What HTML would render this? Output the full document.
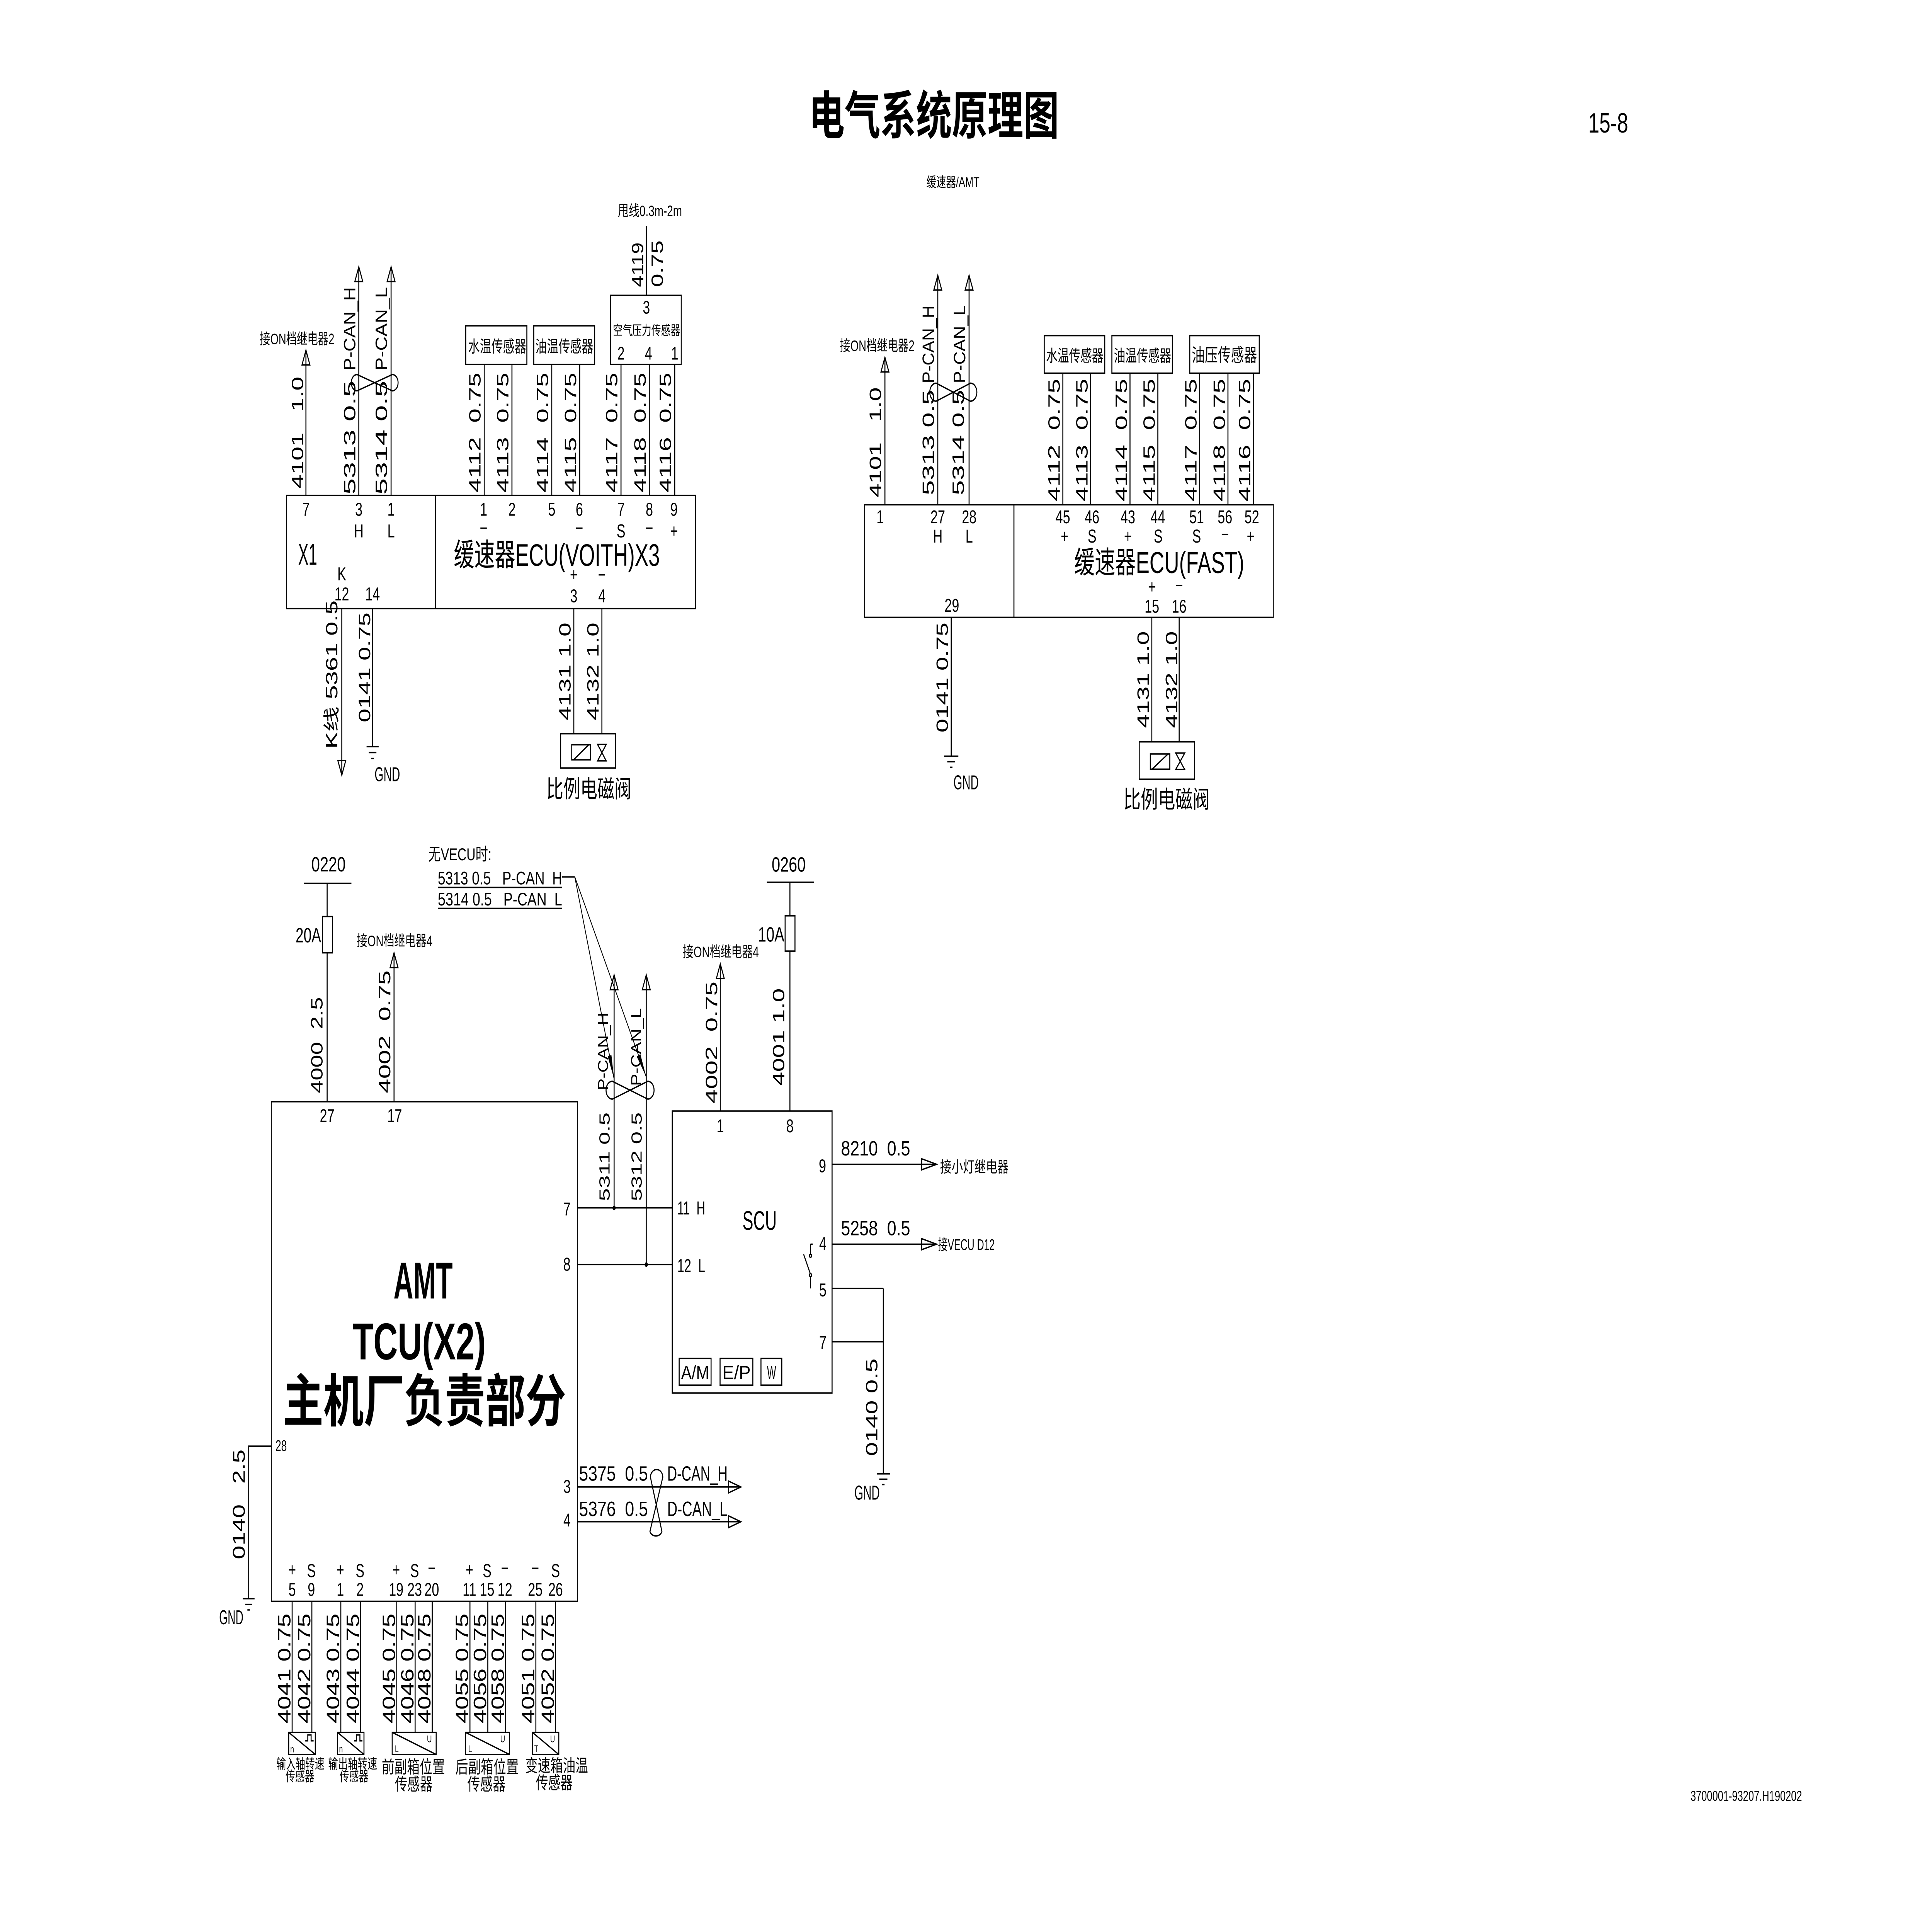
<!DOCTYPE html>
<html><head><meta charset="utf-8"><style>
html,body{margin:0;padding:0;background:#fff;width:100%;height:100%;overflow:hidden;}
svg{display:block;position:absolute;left:0;top:0;width:100vw;height:100vh}
text{font-family:"Liberation Sans","Noto Sans CJK SC",sans-serif;fill:#000}
.c{text-anchor:middle}
.b{font-weight:bold}
</style></head><body>
<svg xmlns="http://www.w3.org/2000/svg" viewBox="0 0 1568 1108" preserveAspectRatio="none">
<rect width="1568" height="1108" fill="#fff"/>
<g stroke="#000" stroke-width="0.8" fill="none">
<!-- ===== TOP LEFT ===== -->
<rect x="232.6" y="286.5" width="331.9" height="65.4"/>
<line x1="353.3" y1="286.5" x2="353.3" y2="351.9"/>
<line x1="248.3" y1="202.5" x2="248.3" y2="286.5"/>
<polygon points="248.3,202.5 245.1,211 251.5,211"/>
<line x1="291.2" y1="154.3" x2="291.2" y2="286.5"/>
<polygon points="291.2,154.3 288,162.8 294.4,162.8"/>
<line x1="317.4" y1="154.3" x2="317.4" y2="286.5"/>
<polygon points="317.4,154.3 314.2,162.8 320.6,162.8"/>
<path d="M289.8,216.6 L318.4,226 A4.7,4.7 0 0 0 318.4,216.6 L289.8,226 A4.7,4.7 0 0 1 289.8,216.6 Z"/>
<rect x="378" y="188.4" width="49.6" height="22.4"/>
<rect x="433.2" y="188.4" width="49.4" height="22.4"/>
<rect x="495.5" y="170.8" width="57.4" height="40"/>
<line x1="393" y1="210.8" x2="393" y2="286.5"/>
<line x1="415.5" y1="210.8" x2="415.5" y2="286.5"/>
<line x1="447.8" y1="210.8" x2="447.8" y2="286.5"/>
<line x1="470.5" y1="210.8" x2="470.5" y2="286.5"/>
<line x1="504" y1="210.8" x2="504" y2="286.5"/>
<line x1="527" y1="210.8" x2="527" y2="286.5"/>
<line x1="547.6" y1="210.8" x2="547.6" y2="286.5"/>
<line x1="524.6" y1="130.8" x2="524.6" y2="170.8"/>
<line x1="277.4" y1="351.9" x2="277.4" y2="448.3"/>
<polygon points="277.4,448.3 274.2,439.8 280.6,439.8"/>
<line x1="302.4" y1="351.9" x2="302.4" y2="431.8"/>
<line x1="297.5" y1="431.8" x2="307.3" y2="431.8"/>
<line x1="299.3" y1="435.2" x2="305.5" y2="435.2"/>
<line x1="301.3" y1="438.6" x2="303.5" y2="438.6"/>
<line x1="465.7" y1="351.9" x2="465.7" y2="424.3"/>
<line x1="488.5" y1="351.9" x2="488.5" y2="424.3"/>
<rect x="455" y="424.3" width="44.6" height="19.8"/>
<rect x="464" y="430.7" width="15.3" height="8.7"/>
<line x1="465.5" y1="439.4" x2="477.8" y2="430.7"/>
<path d="M485,430.5 H492 L485,440 H492 Z"/>
<!-- ===== TOP RIGHT ===== -->
<rect x="701.7" y="291.9" width="331.7" height="65.1"/>
<line x1="822.9" y1="291.9" x2="822.9" y2="357"/>
<line x1="718.2" y1="206.6" x2="718.2" y2="291.9"/>
<polygon points="718.2,206.6 715,215.1 721.4,215.1"/>
<line x1="761.1" y1="159.2" x2="761.1" y2="291.9"/>
<polygon points="761.1,159.2 757.9,167.7 764.3,167.7"/>
<line x1="786.5" y1="159.2" x2="786.5" y2="291.9"/>
<polygon points="786.5,159.2 783.3,167.7 789.7,167.7"/>
<path d="M759.8,221.6 L787.6,232 A5.2,5.2 0 0 0 787.6,221.6 L759.8,232 A5.2,5.2 0 0 1 759.8,221.6 Z"/>
<rect x="847.5" y="194.1" width="49.1" height="21.7"/>
<rect x="902.4" y="194.1" width="49.1" height="21.7"/>
<rect x="965.6" y="194.1" width="56.4" height="21.7"/>
<line x1="862.6" y1="215.8" x2="862.6" y2="291.9"/>
<line x1="885.1" y1="215.8" x2="885.1" y2="291.9"/>
<line x1="917.1" y1="215.8" x2="917.1" y2="291.9"/>
<line x1="939.7" y1="215.8" x2="939.7" y2="291.9"/>
<line x1="973.6" y1="215.8" x2="973.6" y2="291.9"/>
<line x1="996.6" y1="215.8" x2="996.6" y2="291.9"/>
<line x1="1017.2" y1="215.8" x2="1017.2" y2="291.9"/>
<line x1="772" y1="357" x2="772" y2="437.3"/>
<line x1="766.2" y1="437.3" x2="777.8" y2="437.3"/>
<line x1="768.8" y1="440.5" x2="775.2" y2="440.5"/>
<line x1="771" y1="443.7" x2="773" y2="443.7"/>
<line x1="934.8" y1="357" x2="934.8" y2="429"/>
<line x1="957" y1="357" x2="957" y2="429"/>
<rect x="924.6" y="429" width="44.9" height="21.6"/>
<rect x="933.6" y="436" width="15.8" height="8.8"/>
<line x1="935" y1="444.8" x2="948" y2="436"/>
<path d="M954.2,435.5 H961.5 L954.2,445 H961.5 Z"/>
<!-- ===== LOWER: AMT ===== -->
<line x1="246.7" y1="510.8" x2="285.2" y2="510.8"/>
<line x1="265.5" y1="510.8" x2="265.5" y2="637.1"/>
<rect x="261.7" y="530" width="8.1" height="21" fill="#fff"/>
<line x1="319.8" y1="551" x2="319.8" y2="637.1"/>
<polygon points="319.8,551 316.6,559.5 323,559.5"/>
<rect x="220.2" y="637.1" width="248.4" height="288.9"/>
<line x1="468.6" y1="698.5" x2="545.6" y2="698.5"/>
<line x1="468.6" y1="731.3" x2="545.6" y2="731.3"/>
<line x1="498.4" y1="563.8" x2="498.4" y2="698.5"/>
<polygon points="498.4,563.8 495.2,572.3 501.6,572.3"/>
<line x1="524.5" y1="563.8" x2="524.5" y2="731.3"/>
<polygon points="524.5,563.8 521.3,572.3 527.7,572.3"/>
<path d="M497,625.3 L525.7,635.6 A5.15,5.15 0 0 0 525.7,625.3 L497,635.6 A5.15,5.15 0 0 1 497,625.3 Z"/>
<line x1="355.3" y1="513.2" x2="456.2" y2="513.2"/>
<line x1="355.3" y1="525.3" x2="456.2" y2="525.3"/>
<line x1="456.2" y1="507.1" x2="466.5" y2="507.1"/>
<line x1="466.5" y1="507.1" x2="498.4" y2="624" stroke-width="0.6"/>
<line x1="466.5" y1="507.1" x2="524.5" y2="622.8" stroke-width="0.6"/>
<!-- SCU -->
<rect x="545.6" y="642.5" width="129.7" height="163.1"/>
<line x1="584.6" y1="557.4" x2="584.6" y2="642.5"/>
<polygon points="584.6,557.4 581.4,565.9 587.8,565.9"/>
<line x1="622.4" y1="510.2" x2="660.7" y2="510.2"/>
<line x1="641.1" y1="510.2" x2="641.1" y2="642.5"/>
<rect x="637.2" y="529.6" width="8" height="20.4" fill="#fff"/>
<line x1="675.3" y1="673.3" x2="760.1" y2="673.3"/>
<polygon points="760.1,673.3 748,670.1 748,676.5"/>
<line x1="675.3" y1="719.5" x2="760.1" y2="719.5"/>
<polygon points="760.1,719.5 748,716.3 748,722.7"/>
<line x1="657.8" y1="719.5" x2="659.6" y2="719.5"/>
<line x1="657.8" y1="719.5" x2="657.8" y2="725.3"/>
<circle cx="657.8" cy="726.2" r="0.9"/>
<line x1="652.2" y1="725.3" x2="657.6" y2="736.5"/>
<circle cx="657.8" cy="737.4" r="0.9"/>
<line x1="657.8" y1="738.3" x2="657.8" y2="745.1"/>
<line x1="675.3" y1="745.1" x2="716.9" y2="745.1"/>
<line x1="716.9" y1="745.1" x2="716.9" y2="852.3"/>
<line x1="675.3" y1="775.9" x2="716.9" y2="775.9"/>
<line x1="711.6" y1="852.3" x2="722.2" y2="852.3"/>
<line x1="713.6" y1="855.4" x2="720.2" y2="855.4"/>
<line x1="715.9" y1="858.5" x2="717.9" y2="858.5"/>
<rect x="551.2" y="785.6" width="25.9" height="15.4"/>
<rect x="584.4" y="785.6" width="26.6" height="15.4"/>
<rect x="617.6" y="785.6" width="16.9" height="15.4"/>
<!-- D-CAN -->
<line x1="468.6" y1="859.9" x2="601.3" y2="859.9"/>
<polygon points="601.3,859.9 591.3,856.5 591.3,863.3"/>
<line x1="468.6" y1="880" x2="601.3" y2="880"/>
<polygon points="601.3,880 591.3,876.6 591.3,883.4"/>
<path d="M527.9,854.3 A5,4.5 0 0 1 537.9,854.3 L527.5,885.6 A5,3.5 0 0 0 537.2,885.6 Z"/>
<!-- pin 28 ground -->
<polyline points="220.2,836.3 201.8,836.3 201.8,924.5"/>
<line x1="197" y1="924.5" x2="206.6" y2="924.5"/>
<line x1="199" y1="927.8" x2="204.6" y2="927.8"/>
<line x1="200.8" y1="931" x2="202.8" y2="931"/>
<!-- bottom sensor wires -->
<line x1="237.1" y1="926" x2="237.1" y2="1001.8"/>
<line x1="253.1" y1="926" x2="253.1" y2="1001.8"/>
<line x1="276.6" y1="926" x2="276.6" y2="1001.8"/>
<line x1="292.7" y1="926" x2="292.7" y2="1001.8"/>
<line x1="322" y1="926" x2="322" y2="1001.8"/>
<line x1="336.9" y1="926" x2="336.9" y2="1001.8"/>
<line x1="350.8" y1="926" x2="350.8" y2="1001.8"/>
<line x1="381.4" y1="926" x2="381.4" y2="1001.8"/>
<line x1="395.9" y1="926" x2="395.9" y2="1001.8"/>
<line x1="410.3" y1="926" x2="410.3" y2="1001.8"/>
<line x1="434.9" y1="926" x2="434.9" y2="1001.8"/>
<line x1="450.9" y1="926" x2="450.9" y2="1001.8"/>
<rect x="234.3" y="1001.8" width="21.6" height="12.8"/>
<line x1="234.3" y1="1001.8" x2="255.9" y2="1014.6"/>
<path d="M247.8,1006.7 H249.8 V1003.3 H252.5 V1006.7 H254.5"/>
<rect x="273.9" y="1001.8" width="21.5" height="12.8"/>
<line x1="273.9" y1="1001.8" x2="295.4" y2="1014.6"/>
<path d="M287.4,1006.7 H289.4 V1003.3 H292.1 V1006.7 H294.1"/>
<rect x="318.3" y="1001.8" width="35.7" height="12.8"/>
<line x1="318.3" y1="1001.8" x2="354" y2="1014.6"/>
<rect x="377.8" y="1001.8" width="35.7" height="12.8"/>
<line x1="377.8" y1="1001.8" x2="413.5" y2="1014.6"/>
<rect x="432.1" y="1001.8" width="21.4" height="12.8"/>
<line x1="432.1" y1="1001.8" x2="453.5" y2="1014.6"/>
</g>
<!-- filled markers -->
<g fill="#000" stroke="none">
<polygon points="498.4,624 493.2,610.9 496.2,610.1"/>
<polygon points="524.5,622.8 516.8,611 519.7,609.6"/>
<circle cx="498.4" cy="698.5" r="1.3"/>
<circle cx="524.5" cy="731.3" r="1.3"/>
</g>

<!-- ===== TEXT ===== -->
<text x="656.5" y="77.5" font-size="30" class="b" textLength="203" lengthAdjust="spacingAndGlyphs">电气系统原理图</text>
<text x="1289" y="76.6" font-size="16.2">15-8</text>
<text x="751.9" y="108.1" font-size="8" textLength="43" lengthAdjust="spacingAndGlyphs">缓速器/AMT</text>
<text x="1372" y="1041.4" font-size="8.2" textLength="90.5" lengthAdjust="spacingAndGlyphs">3700001-93207.H190202</text>

<!-- top-left horizontal -->
<text x="501.5" y="124.9" font-size="8.7" textLength="52" lengthAdjust="spacingAndGlyphs">甩线0.3m-2m</text>
<text x="210.8" y="199" font-size="8.7" textLength="60.6" lengthAdjust="spacingAndGlyphs">接ON档继电器2</text>
<text x="380" y="203.7" font-size="9.5" textLength="47" lengthAdjust="spacingAndGlyphs">水温传感器</text>
<text x="434.5" y="203.7" font-size="9.5" textLength="47" lengthAdjust="spacingAndGlyphs">油温传感器</text>
<text x="524.6" y="181.4" font-size="10.5" class="c">3</text>
<text x="497.5" y="193.8" font-size="7.8" textLength="54.5" lengthAdjust="spacingAndGlyphs">空气压力传感器</text>
<g font-size="10.5" class="c">
<text x="504" y="208">2</text><text x="526.3" y="208">4</text><text x="547.6" y="208">1</text>
</g>
<g font-size="10.7" class="c">
<text x="248.3" y="298.2">7</text><text x="291.2" y="298.2">3</text><text x="317.4" y="298.2">1</text>
<text x="392.5" y="298.2">1</text><text x="415.5" y="298.2">2</text><text x="447.8" y="298.2">5</text><text x="470.2" y="298.2">6</text>
<text x="504" y="298.2">7</text><text x="527" y="298.2">8</text><text x="547" y="298.2">9</text>
<text x="291.2" y="310.7">H</text><text x="317.4" y="310.7">L</text>
<text x="392.5" y="309">−</text><text x="470.2" y="309">−</text><text x="504" y="310.7">S</text><text x="527" y="309">−</text><text x="547" y="310.7">+</text>
<text x="277.4" y="335.6">K</text>
<text x="277.4" y="347.2">12</text><text x="302.4" y="347.2">14</text>
<text x="465.7" y="336">+</text><text x="488.5" y="336">−</text>
<text x="465.7" y="348.3">3</text><text x="488.5" y="348.3">4</text>
</g>
<text x="242" y="326.6" font-size="17.5" textLength="15.4" lengthAdjust="spacingAndGlyphs">X1</text>
<text x="368.3" y="327.2" font-size="18" textLength="167.2" lengthAdjust="spacingAndGlyphs">缓速器ECU(VOITH)X3</text>
<text x="304" y="451.8" font-size="11.5" textLength="20.7" lengthAdjust="spacingAndGlyphs">GND</text>
<text x="443.4" y="461.2" font-size="14" textLength="69" lengthAdjust="spacingAndGlyphs">比例电磁阀</text>

<!-- top-left vertical -->
<g font-size="13.3">
<text transform="translate(246,282.5) rotate(-90)" textLength="64.7" lengthAdjust="spacingAndGlyphs">4101&#160;&#160;&#160;1.0</text>
<text transform="translate(288.3,286) rotate(-90)" textLength="65.8" lengthAdjust="spacingAndGlyphs">5313 0.5</text>
<text transform="translate(288.3,214.3) rotate(-90)" textLength="48.3" lengthAdjust="spacingAndGlyphs">P-CAN_H</text>
<text transform="translate(314,286) rotate(-90)" textLength="65.8" lengthAdjust="spacingAndGlyphs">5314 0.5</text>
<text transform="translate(314,214.3) rotate(-90)" textLength="48.3" lengthAdjust="spacingAndGlyphs">P-CAN_L</text>
<text transform="translate(390,284.8) rotate(-90)" textLength="69.3" lengthAdjust="spacingAndGlyphs">4112&#160;&#160;0.75</text>
<text transform="translate(412.5,284.8) rotate(-90)" textLength="69.3" lengthAdjust="spacingAndGlyphs">4113&#160;&#160;0.75</text>
<text transform="translate(444.8,284.8) rotate(-90)" textLength="69.3" lengthAdjust="spacingAndGlyphs">4114&#160;&#160;0.75</text>
<text transform="translate(467.5,284.8) rotate(-90)" textLength="69.3" lengthAdjust="spacingAndGlyphs">4115&#160;&#160;0.75</text>
<text transform="translate(501,284.8) rotate(-90)" textLength="69.3" lengthAdjust="spacingAndGlyphs">4117&#160;&#160;0.75</text>
<text transform="translate(524,284.8) rotate(-90)" textLength="69.3" lengthAdjust="spacingAndGlyphs">4118&#160;&#160;0.75</text>
<text transform="translate(544.6,284.8) rotate(-90)" textLength="69.3" lengthAdjust="spacingAndGlyphs">4116&#160;&#160;0.75</text>
<text transform="translate(522,166) rotate(-90)" textLength="25.8" lengthAdjust="spacingAndGlyphs">4119</text>
<text transform="translate(538,166) rotate(-90)" textLength="27" lengthAdjust="spacingAndGlyphs">0.75</text>
<text transform="translate(273.8,433) rotate(-90)" textLength="85.8" lengthAdjust="spacingAndGlyphs">K线 5361 0.5</text>
<text transform="translate(300.4,417.7) rotate(-90)" textLength="63.5" lengthAdjust="spacingAndGlyphs">0141 0.75</text>
<text transform="translate(463,416.6) rotate(-90)" textLength="56.6" lengthAdjust="spacingAndGlyphs">4131 1.0</text>
<text transform="translate(485.8,416.6) rotate(-90)" textLength="56.6" lengthAdjust="spacingAndGlyphs">4132 1.0</text>
</g>

<!-- top-right horizontal -->
<text x="681.6" y="202.9" font-size="8.7" textLength="60.6" lengthAdjust="spacingAndGlyphs">接ON档继电器2</text>
<text x="849" y="209.1" font-size="9.5" textLength="46.5" lengthAdjust="spacingAndGlyphs">水温传感器</text>
<text x="904" y="209.1" font-size="9.5" textLength="46.5" lengthAdjust="spacingAndGlyphs">油温传感器</text>
<text x="967.2" y="209.1" font-size="10.5" textLength="53" lengthAdjust="spacingAndGlyphs">油压传感器</text>
<g font-size="10.7" class="c">
<text x="714.3" y="302.6">1</text><text x="761.1" y="302.6">27</text><text x="786.6" y="302.6">28</text>
<text x="862.6" y="302.6">45</text><text x="886.3" y="302.6">46</text><text x="915.4" y="302.6">43</text><text x="939.7" y="302.6">44</text>
<text x="971.2" y="302.6">51</text><text x="994.2" y="302.6">56</text><text x="1016" y="302.6">52</text>
<text x="761.1" y="313.8">H</text><text x="786.6" y="313.8">L</text>
<text x="864" y="313.8">+</text><text x="886.3" y="313.8">S</text><text x="915.4" y="313.8">+</text><text x="940" y="313.8">S</text>
<text x="971.2" y="313.8">S</text><text x="994.2" y="312.5">−</text><text x="1015" y="313.8">+</text>
<text x="934.9" y="343">+</text><text x="957" y="342">−</text>
<text x="934.9" y="354.3">15</text><text x="957" y="354.3">16</text>
<text x="772.5" y="353.8">29</text>
</g>
<text x="871.8" y="331.3" font-size="17.5" textLength="138" lengthAdjust="spacingAndGlyphs">缓速器ECU(FAST)</text>
<text x="773.8" y="456.5" font-size="11.5" textLength="20.5" lengthAdjust="spacingAndGlyphs">GND</text>
<text x="911.8" y="467.2" font-size="14" textLength="70" lengthAdjust="spacingAndGlyphs">比例电磁阀</text>

<!-- top-right vertical -->
<g font-size="13.3">
<text transform="translate(715,287.6) rotate(-90)" textLength="63.6" lengthAdjust="spacingAndGlyphs">4101&#160;&#160;&#160;1.0</text>
<text transform="translate(758,286.4) rotate(-90)" textLength="61" lengthAdjust="spacingAndGlyphs">5313 0.5</text>
<text transform="translate(758,221.6) rotate(-90)" textLength="45" lengthAdjust="spacingAndGlyphs">P-CAN_H</text>
<text transform="translate(782.2,286.4) rotate(-90)" textLength="61" lengthAdjust="spacingAndGlyphs">5314 0.5</text>
<text transform="translate(783.4,221.6) rotate(-90)" textLength="45" lengthAdjust="spacingAndGlyphs">P-CAN_L</text>
<text transform="translate(860.1,290) rotate(-90)" textLength="71" lengthAdjust="spacingAndGlyphs">4112&#160;&#160;0.75</text>
<text transform="translate(882.6,290) rotate(-90)" textLength="71" lengthAdjust="spacingAndGlyphs">4113&#160;&#160;0.75</text>
<text transform="translate(914.6,290) rotate(-90)" textLength="71" lengthAdjust="spacingAndGlyphs">4114&#160;&#160;0.75</text>
<text transform="translate(937.2,290) rotate(-90)" textLength="71" lengthAdjust="spacingAndGlyphs">4115&#160;&#160;0.75</text>
<text transform="translate(971.1,290) rotate(-90)" textLength="71" lengthAdjust="spacingAndGlyphs">4117&#160;&#160;0.75</text>
<text transform="translate(994.1,290) rotate(-90)" textLength="71" lengthAdjust="spacingAndGlyphs">4118&#160;&#160;0.75</text>
<text transform="translate(1014.7,290) rotate(-90)" textLength="71" lengthAdjust="spacingAndGlyphs">4116&#160;&#160;0.75</text>
<text transform="translate(769.3,423.6) rotate(-90)" textLength="63.6" lengthAdjust="spacingAndGlyphs">0141 0.75</text>
<text transform="translate(932.4,421) rotate(-90)" textLength="56" lengthAdjust="spacingAndGlyphs">4131 1.0</text>
<text transform="translate(955.4,421) rotate(-90)" textLength="56" lengthAdjust="spacingAndGlyphs">4132 1.0</text>
</g>

<!-- lower horizontal -->
<text x="252.7" y="503.9" font-size="12" textLength="27.8" lengthAdjust="spacingAndGlyphs">0220</text>
<text x="239.9" y="545" font-size="12" textLength="20.7" lengthAdjust="spacingAndGlyphs">20A</text>
<text x="289.5" y="547.1" font-size="8.7" textLength="61.5" lengthAdjust="spacingAndGlyphs">接ON档继电器4</text>
<text x="347.6" y="497.5" font-size="10" textLength="51.3" lengthAdjust="spacingAndGlyphs">无VECU时:</text>
<text x="355.3" y="511.4" font-size="10.5" textLength="100.9" lengthAdjust="spacingAndGlyphs">5313 0.5&#160;&#160;&#160;P-CAN_H</text>
<text x="355.3" y="523.6" font-size="10.5" textLength="100.9" lengthAdjust="spacingAndGlyphs">5314 0.5&#160;&#160;&#160;P-CAN_L</text>
<g font-size="10.7" class="c">
<text x="265.5" y="648.9">27</text><text x="320.3" y="648.9">17</text>
<text x="460.1" y="702.8">7</text><text x="460.1" y="734.8">8</text>
<text x="584.6" y="654.8">1</text><text x="641.1" y="654.8">8</text>
<text x="667.5" y="677.9">9</text><text x="667.8" y="722.8">4</text><text x="667.8" y="749.7">5</text><text x="667.8" y="780">7</text>
<text x="460.2" y="863.3">3</text><text x="460.2" y="882.7">4</text>
</g>
<text x="319.4" y="750.9" font-size="30" class="b" textLength="48" lengthAdjust="spacingAndGlyphs">AMT</text>
<text x="286.3" y="786.1" font-size="30" class="b" textLength="108" lengthAdjust="spacingAndGlyphs">TCU(X2)</text>
<text x="229.6" y="822" font-size="33" class="b" textLength="229.8" lengthAdjust="spacingAndGlyphs">主机厂负责部分</text>
<text x="626.3" y="504" font-size="12" textLength="27.6" lengthAdjust="spacingAndGlyphs">0260</text>
<text x="615.2" y="544.5" font-size="12" textLength="21.3" lengthAdjust="spacingAndGlyphs">10A</text>
<text x="554.1" y="553.5" font-size="8.7" textLength="61.8" lengthAdjust="spacingAndGlyphs">接ON档继电器4</text>
<text x="549.7" y="702.3" font-size="10.7" textLength="22.6" lengthAdjust="spacingAndGlyphs">11&#160;&#160;H</text>
<text x="549.7" y="735.6" font-size="10.7" textLength="22.6" lengthAdjust="spacingAndGlyphs">12&#160;&#160;L</text>
<text x="602.6" y="711.2" font-size="15.5" textLength="27.8" lengthAdjust="spacingAndGlyphs">SCU</text>
<text x="682.5" y="668.2" font-size="12" textLength="56.2" lengthAdjust="spacingAndGlyphs">8210&#160;&#160;0.5</text>
<text x="763" y="677.9" font-size="9" textLength="55.7" lengthAdjust="spacingAndGlyphs">接小灯继电器</text>
<text x="682.5" y="714.3" font-size="12" textLength="56.2" lengthAdjust="spacingAndGlyphs">5258&#160;&#160;0.5</text>
<text x="761.3" y="722.8" font-size="9" textLength="46" lengthAdjust="spacingAndGlyphs">接VECU D12</text>
<text x="693.4" y="867.2" font-size="11.5" textLength="20.6" lengthAdjust="spacingAndGlyphs">GND</text>
<text x="552.8" y="797.5" font-size="11" textLength="22.8" lengthAdjust="spacingAndGlyphs">A/M</text>
<text x="586.2" y="797.5" font-size="11" textLength="23" lengthAdjust="spacingAndGlyphs">E/P</text>
<text x="622.5" y="797.5" font-size="11" textLength="7.4" lengthAdjust="spacingAndGlyphs">W</text>
<text x="469.9" y="856.2" font-size="12" textLength="56" lengthAdjust="spacingAndGlyphs">5375&#160;&#160;0.5</text>
<text x="541.5" y="856.2" font-size="12" textLength="49" lengthAdjust="spacingAndGlyphs">D-CAN_H</text>
<text x="469.9" y="876.7" font-size="12" textLength="56" lengthAdjust="spacingAndGlyphs">5376&#160;&#160;0.5</text>
<text x="541.5" y="876.7" font-size="12" textLength="49" lengthAdjust="spacingAndGlyphs">D-CAN_L</text>
<text x="223.6" y="839" font-size="9" textLength="9.2" lengthAdjust="spacingAndGlyphs">28</text>
<text x="177.9" y="939.3" font-size="11.5" textLength="19.6" lengthAdjust="spacingAndGlyphs">GND</text>
<g font-size="10.7" class="c">
<text x="237.1" y="911.5">+</text><text x="252.7" y="912">S</text>
<text x="276.2" y="911.5">+</text><text x="292.2" y="912">S</text>
<text x="321.5" y="911.5">+</text><text x="336.5" y="912">S</text><text x="350.4" y="910.5">−</text>
<text x="381" y="911.5">+</text><text x="395.3" y="912">S</text><text x="409.8" y="910.5">−</text>
<text x="434.4" y="910.5">−</text><text x="450.9" y="912">S</text>
<text x="237.1" y="922.9">5</text><text x="252.7" y="922.9">9</text>
<text x="276.2" y="922.9">1</text><text x="292.2" y="922.9">2</text>
<text x="321.5" y="922.9">19</text><text x="336.5" y="922.9">23</text><text x="350.4" y="922.9">20</text>
<text x="381" y="922.9">11</text><text x="395.3" y="922.9">15</text><text x="409.8" y="922.9">12</text>
<text x="434.4" y="922.9">25</text><text x="450.9" y="922.9">26</text>
</g>
<g font-size="5.5">
<text x="235.6" y="1013.4">n</text><text x="275.2" y="1013.4">n</text>
<text x="320.5" y="1013.2">L</text><text x="346.5" y="1007.5">U</text>
<text x="380" y="1013.2">L</text><text x="406" y="1007.5">U</text>
<text x="433.6" y="1013.2">T</text><text x="446.5" y="1007.5">U</text>
</g>
<text x="224.3" y="1022.8" font-size="8" textLength="39" lengthAdjust="spacingAndGlyphs">输入轴转速</text>
<text x="231.7" y="1030" font-size="8" textLength="23.6" lengthAdjust="spacingAndGlyphs">传感器</text>
<text x="266.4" y="1022.8" font-size="8" textLength="39.7" lengthAdjust="spacingAndGlyphs">输出轴转速</text>
<text x="275.6" y="1030" font-size="8" textLength="23.5" lengthAdjust="spacingAndGlyphs">传感器</text>
<text x="309.8" y="1025.3" font-size="10" textLength="51.3" lengthAdjust="spacingAndGlyphs">前副箱位置</text>
<text x="320.5" y="1035.3" font-size="10" textLength="30.5" lengthAdjust="spacingAndGlyphs">传感器</text>
<text x="369.6" y="1025.3" font-size="10" textLength="51.4" lengthAdjust="spacingAndGlyphs">后副箱位置</text>
<text x="379.3" y="1035.3" font-size="10" textLength="31" lengthAdjust="spacingAndGlyphs">传感器</text>
<text x="426.3" y="1024.5" font-size="10" textLength="50.9" lengthAdjust="spacingAndGlyphs">变速箱油温</text>
<text x="434.9" y="1034.5" font-size="10" textLength="29.9" lengthAdjust="spacingAndGlyphs">传感器</text>

<!-- lower vertical -->
<g font-size="13.3">
<text transform="translate(261.7,632.2) rotate(-90)" textLength="55.6" lengthAdjust="spacingAndGlyphs">4000&#160;&#160;2.5</text>
<text transform="translate(316.8,632.2) rotate(-90)" textLength="71" lengthAdjust="spacingAndGlyphs">4002&#160;&#160;0.75</text>
<text transform="translate(493.5,630.5) rotate(-90)" font-size="11.5" textLength="45" lengthAdjust="spacingAndGlyphs">P-CAN_H</text>
<text transform="translate(520.2,628) rotate(-90)" font-size="11.5" textLength="45" lengthAdjust="spacingAndGlyphs">P-CAN_L</text>
<text transform="translate(494.7,694.6) rotate(-90)" font-size="12" textLength="51.3" lengthAdjust="spacingAndGlyphs">5311 0.5</text>
<text transform="translate(520.7,694.6) rotate(-90)" font-size="12" textLength="51.3" lengthAdjust="spacingAndGlyphs">5312 0.5</text>
<text transform="translate(582,638.1) rotate(-90)" textLength="70.5" lengthAdjust="spacingAndGlyphs">4002&#160;&#160;0.75</text>
<text transform="translate(636.5,627.9) rotate(-90)" textLength="56.4" lengthAdjust="spacingAndGlyphs">4001 1.0</text>
<text transform="translate(712.1,842) rotate(-90)" textLength="56.4" lengthAdjust="spacingAndGlyphs">0140 0.5</text>
<text transform="translate(198.6,901.7) rotate(-90)" font-size="14" textLength="63.5" lengthAdjust="spacingAndGlyphs">0140&#160;&#160;&#160;2.5</text>
</g>
<g font-size="14.5">
<text transform="translate(235.6,996.6) rotate(-90)" textLength="63.5" lengthAdjust="spacingAndGlyphs">4041 0.75</text>
<text transform="translate(251.8,996.6) rotate(-90)" textLength="63.5" lengthAdjust="spacingAndGlyphs">4042 0.75</text>
<text transform="translate(275.2,996.6) rotate(-90)" textLength="63.5" lengthAdjust="spacingAndGlyphs">4043 0.75</text>
<text transform="translate(291.3,996.6) rotate(-90)" textLength="63.5" lengthAdjust="spacingAndGlyphs">4044 0.75</text>
<text transform="translate(320.6,996.6) rotate(-90)" textLength="63.5" lengthAdjust="spacingAndGlyphs">4045 0.75</text>
<text transform="translate(335.5,996.6) rotate(-90)" textLength="63.5" lengthAdjust="spacingAndGlyphs">4046 0.75</text>
<text transform="translate(349.4,996.6) rotate(-90)" textLength="63.5" lengthAdjust="spacingAndGlyphs">4048 0.75</text>
<text transform="translate(380,996.6) rotate(-90)" textLength="63.5" lengthAdjust="spacingAndGlyphs">4055 0.75</text>
<text transform="translate(394.5,996.6) rotate(-90)" textLength="63.5" lengthAdjust="spacingAndGlyphs">4056 0.75</text>
<text transform="translate(408.9,996.6) rotate(-90)" textLength="63.5" lengthAdjust="spacingAndGlyphs">4058 0.75</text>
<text transform="translate(433.5,996.6) rotate(-90)" textLength="63.5" lengthAdjust="spacingAndGlyphs">4051 0.75</text>
<text transform="translate(449.5,996.6) rotate(-90)" textLength="63.5" lengthAdjust="spacingAndGlyphs">4052 0.75</text>
</g>
</svg>
</body></html>
